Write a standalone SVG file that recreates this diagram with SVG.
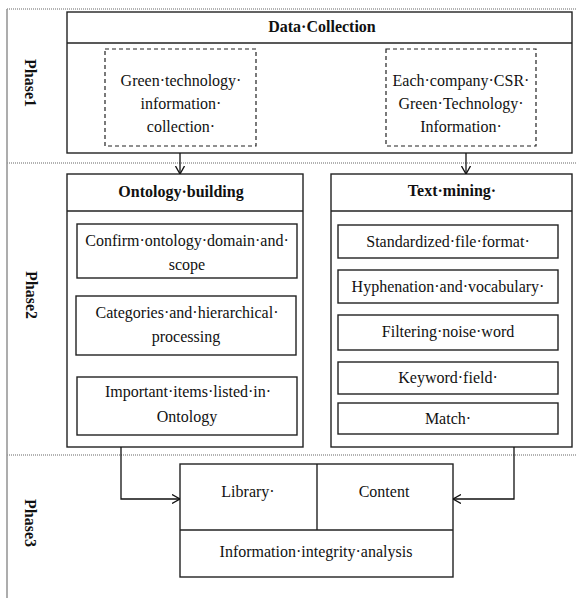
<svg xmlns="http://www.w3.org/2000/svg" width="576" height="598" viewBox="0 0 576 598">
<style>
  text { font-family: "Liberation Serif", "Times New Roman", serif; font-size: 16px; fill: #111; text-anchor: middle; }
  .b { font-weight: bold; }
  .box { fill: #fff; stroke: #222; stroke-width: 1.4; }
  .dash { fill: none; stroke: #222; stroke-width: 1.2; stroke-dasharray: 4 3; }
  .line { fill: none; stroke: #222; stroke-width: 1.4; }
  .phase { fill: none; stroke: #999; stroke-width: 1.5; stroke-dasharray: 1 1; }
  .edge { fill: none; stroke: #111; stroke-width: 1.3; }
</style>
<defs>
  <marker id="arr" viewBox="0 0 8 10" refX="8" refY="5" markerWidth="8" markerHeight="10" markerUnits="userSpaceOnUse" orient="auto">
    <path d="M0,0.5 L8,5 L0,9.5" fill="none" stroke="#111" stroke-width="1.3"/>
  </marker>
</defs>
<rect width="576" height="598" fill="#fff"/>

<g id="phases">
  <line x1="7" y1="9" x2="576" y2="9" class="phase"/>
  <line x1="7" y1="9" x2="7" y2="598" stroke="#999" stroke-width="1.6"/>
  <line x1="7" y1="163" x2="576" y2="163" class="phase"/>
  <line x1="7" y1="455" x2="576" y2="455" class="phase"/>
  <text class="b" transform="translate(25,83) rotate(90)">Phase1</text>
  <text class="b" transform="translate(26,295) rotate(90)">Phase2</text>
  <text class="b" transform="translate(25,523) rotate(90)">Phase3</text>
</g>

<g id="data-collection">
  <rect x="67" y="12" width="505" height="141" class="box"/>
  <line x1="67" y1="43" x2="572" y2="43" class="line"/>
  <text class="b" x="322" y="32">Data·Collection</text>
</g>
<g id="green-tech-info">
  <rect x="105" y="49" width="151" height="97" class="dash"/>
  <text x="181" y="86">Green·technology·</text>
  <text x="181" y="109">information·</text>
  <text x="181" y="132">collection·</text>
</g>
<g id="csr-info">
  <rect x="386" y="49" width="150" height="97" class="dash"/>
  <text x="461" y="86">Each·company·CSR·</text>
  <text x="461" y="109">Green·Technology·</text>
  <text x="461" y="132">Information·</text>
</g>

<g id="ontology-building">
  <rect x="67" y="174" width="236" height="273" class="box"/>
  <line x1="67" y1="211" x2="303" y2="211" class="line"/>
  <text class="b" x="181" y="197">Ontology·building</text>
</g>
<g id="confirm-domain">
  <rect x="77" y="224" width="220" height="54" class="box"/>
  <text x="187" y="246">Confirm·ontology·domain·and·</text>
  <text x="187" y="270">scope</text>
</g>
<g id="categories">
  <rect x="76" y="296" width="220" height="59" class="box"/>
  <text x="187" y="318">Categories·and·hierarchical·</text>
  <text x="186" y="342">processing</text>
</g>
<g id="important-items">
  <rect x="77" y="377" width="220" height="58" class="box"/>
  <text x="188" y="397">Important·items·listed·in·</text>
  <text x="187" y="422">Ontology</text>
</g>

<g id="text-mining">
  <rect x="331" y="174" width="241" height="273" class="box"/>
  <line x1="331" y1="211" x2="572" y2="211" class="line"/>
  <text class="b" x="452" y="196">Text·mining·</text>
</g>
<g id="standardized">
  <rect x="338" y="225" width="220" height="33" class="box"/>
  <text x="448" y="247">Standardized·file·format·</text>
</g>
<g id="hyphenation">
  <rect x="338" y="270" width="220" height="33" class="box"/>
  <text x="448" y="292">Hyphenation·and·vocabulary·</text>
</g>
<g id="filtering">
  <rect x="338" y="315" width="220" height="35" class="box"/>
  <text x="448" y="337">Filtering·noise·word</text>
</g>
<g id="keyword">
  <rect x="338" y="362" width="220" height="32" class="box"/>
  <text x="448" y="383">Keyword·field·</text>
</g>
<g id="match">
  <rect x="338" y="403" width="220" height="31" class="box"/>
  <text x="448" y="424">Match·</text>
</g>

<g id="analysis">
  <rect x="180" y="464" width="273" height="113" class="box"/>
  <line x1="180" y1="530" x2="453" y2="530" class="line"/>
  <line x1="317" y1="464" x2="317" y2="530" class="line"/>
  <text x="248" y="497">Library·</text>
  <text x="384" y="497">Content</text>
  <text x="316" y="557">Information·integrity·analysis</text>
</g>

<g id="connectors">
  <line x1="180" y1="153" x2="180" y2="174" class="edge" marker-end="url(#arr)"/>
  <line x1="466" y1="153" x2="466" y2="174" class="edge" marker-end="url(#arr)"/>
  <polyline points="121,447 121,499 180,499" class="edge" marker-end="url(#arr)"/>
  <polyline points="514,447 514,499 453,499" class="edge" marker-end="url(#arr)"/>
</g>
</svg>
